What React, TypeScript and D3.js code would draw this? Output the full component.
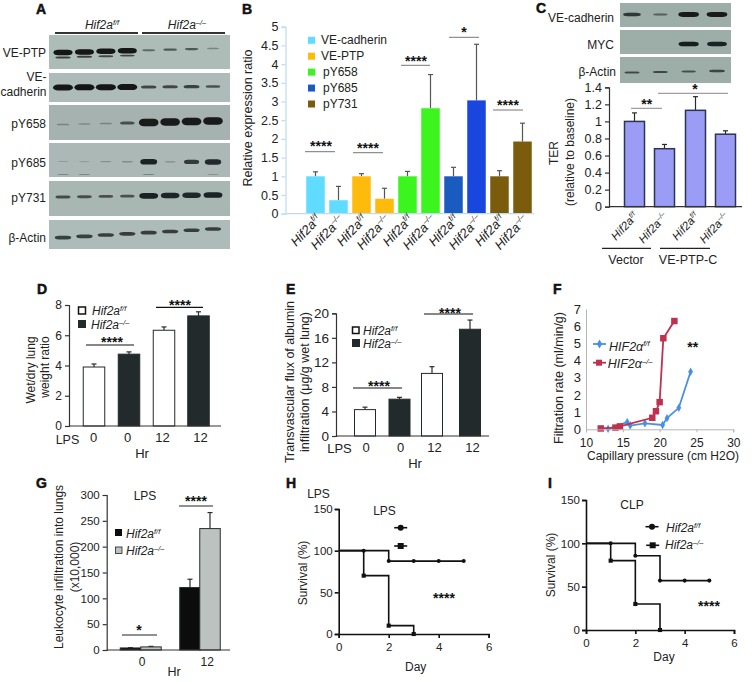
import React, {useEffect, useRef} from "react";
import * as d3 from "d3";

// panel A blots, band strength per lane (0-1)
const blotALabels = ["VE-PTP", "pY658", "pY685", "pY731", "β-Actin"];
const vePtpUpper = [1, 1, 1, 1, 0.2, 0.26, 0.26, 0.12];
const vePtpLower = [0.5, 0.5, 0.42, 0.42, 0, 0, 0, 0];
const veCadherinBands = [1, 1, 1, 1, 0.42, 0.42, 0.48, 0.32];
const pY658Bands = [0.1, 0.07, 0.1, 0.3, 0.95, 0.95, 0.95, 0.95];
const pY685Bands = [0.03, 0.02, 0.06, 0.08, 0.85, 0.08, 0.6, 0.78];
const pY685Smear = [0.1, 0.1, 0, 0, 0.12, 0, 0, 0.06];
const pY731Bands = [0.36, 0.34, 0.32, 0.3, 0.85, 0.82, 0.8, 0.85];
const actinABands = [0.55, 0.55, 0.52, 0.52, 0.52, 0.52, 0.52, 0.52];

// panel C blots
const blotCLabels = ["VE-cadherin", "MYC", "β-Actin"];
const veCadC = [0.6, 0.2, 0.95, 0.95];
const mycC = [0, 0, 0.9, 0.85];
const actinC = [0.36, 0.38, 0.28, 0.45];

// panel B
const bLegend = ["VE-cadherin", "VE-PTP", "pY658", "pY685", "pY731"];
const bColors = ["#5fdcff", "#ffbb0c", "#3cf51e", "#1a5bbf", "#7a5c0c"];
const bValues = [1, 0.36, 1, 0.4, 1, 2.82, 1, 3.03, 1, 1.93];
const bErrTops = [1.12, 0.73, 1.07, 0.68, 1.13, 3.72, 1.24, 4.53, 1.15, 2.42];
const bTicks = [0, 0.5, 1, 1.5, 2, 2.5, 3, 3.5, 4, 4.5, 5];
const bGenotype = ["f/f", "-/-", "f/f", "-/-", "f/f", "-/-", "f/f", "-/-", "f/f", "-/-"];

// panel C
const cValues = [1, 0.68, 1.13, 0.85];
const cErrTops = [1.1, 0.73, 1.29, 0.89];
const cTicks = [0, 0.2, 0.4, 0.6, 0.8, 1, 1.2, 1.4];
const cGenotype = ["f/f", "-/-", "f/f", "-/-"];

// panel D
const dValues = [3.9, 4.75, 6.33, 7.28];
const dErrTops = [4.1, 4.9, 6.55, 7.55];
const dTicks = [0, 2, 4, 6, 8];
const lpsHours = ["0", "0", "12", "12"];

// panel E
const eValues = [4.3, 6, 10.2, 17.4];
const eErrTops = [4.7, 6.3, 11.3, 18.9];
const eTicks = [0, 4, 8, 12, 16, 20];

// panel F
const fFloxX = [13, 15.6, 16, 18, 20.4, 21, 22.6, 24.2];
const fFloxY = [0.03, 0.42, 0.22, 0.35, 0.25, 0.65, 1.25, 3.35];
const fKoX = [12, 14, 14.6, 19, 19.5, 20, 20.5, 22];
const fKoY = [0.05, 0.1, 0.17, 0.67, 1.05, 1.58, 5.3, 6.3];
const fTicksX = [10, 15, 20, 25, 30];
const fTicksY = [0, 1, 2, 3, 4, 5, 6, 7];

// panel G
const gValues = [4, 6, 121, 235];
const gErrTops = [4.5, 7, 137, 266];
const gTicks = [0, 50, 100, 150, 200, 250, 300];
const gHours = ["0", "12"];

// survival
const survTicksX = [0, 2, 4, 6];
const survTicksY = [0, 50, 100, 150];
const hFloxDays = [0, 1, 2, 3, 4, 5];
const hFlox = [100, 100, 87.5, 87.5, 87.5, 87.5];
const hKoDays = [0, 1, 2, 3];
const hKo = [100, 70, 10, 0];
const iFloxDays = [0, 1, 2, 3, 4, 5];
const iFlox = [100, 100, 85.7, 57, 57, 57];
const iKoDays = [0, 1, 2, 3];
const iKo = [100, 80, 30, 0];

const FONT = "'Liberation Sans', Arial, sans-serif";
const INK = "#222";

type Sel = d3.Selection<any, any, any, any>;

const txt = (g: Sel, x: number, y: number, s: string, size = 12, anchor = "start") =>
    g.append("text").attr("x", x).attr("y", y).attr("font-size", size)
        .attr("text-anchor", anchor).attr("fill", INK).text(s);

// rotated y label, centred on (x, cy)
const yLabel = (g: Sel, x: number, cy: number, s: string, size = 12) =>
    g.append("text").attr("transform", `translate(${x},${cy}) rotate(-90)`)
        .attr("font-size", size).attr("text-anchor", "middle").attr("dy", "0.35em")
        .attr("fill", INK).text(s);

const stars = (g: Sel, cx: number, cy: number, s = "****") =>
    g.append("text").attr("x", cx).attr("y", cy + 7).attr("font-size", 14).attr("font-weight", "bold")
        .attr("text-anchor", "middle").attr("fill", "#111").text(s);

const rule = (g: Sel, x1: number, x2: number, y: number, color = "#222", w = 1) =>
    g.append("line").attr("x1", x1).attr("x2", x2).attr("y1", y).attr("y2", y)
        .attr("stroke", color).attr("stroke-width", w);

// "Hif2a" with a raised genotype tag
const geno = (g: Sel, x: number, y: number, tag: string, size = 12, anchor = "start", base = "Hif2a", transform?: string) => {
    const t = g.append("text").attr("font-size", size).attr("font-style", "italic")
        .attr("text-anchor", anchor).attr("fill", INK);
    if (transform) t.attr("transform", transform); else t.attr("x", x).attr("y", y);
    t.append("tspan").text(base);
    t.append("tspan").attr("font-size", size * 0.62).attr("dy", -size * 0.35).text(tag.replace(/-/g, "–"));
    return t;
};

const letter = (g: Sel, x: number, y: number, s: string) =>
    g.append("text").attr("x", x).attr("y", y).attr("font-size", 14).attr("font-weight", "bold")
        .attr("fill", "#111").attr("stroke", "#111").attr("stroke-width", 0.5).text(s);

// one blot strip. bands = list of {vals, y0, y1 (drift over the lanes), thick}
const blot = (g: Sel, x: number, y: number, w: number, h: number, fill: string,
              lanes: d3.ScalePoint<string>, bandW: number,
              bands: {vals: number[], y0: number, y1: number, thick: number}[]) => {
    g.append("rect").attr("x", x).attr("y", y).attr("width", w).attr("height", h).attr("fill", fill);
    const soft = g.append("g").attr("filter", "url(#soft)");
    bands.forEach(b => {
        const thick = d3.scaleLinear().domain([0, 1]).range([1, b.thick]);
        const widen = d3.scaleLinear().domain([0, 1]).range([bandW * 0.6, bandW]);
        const dark = d3.scaleLinear().domain([0, 0.25, 1]).range([0.1, 0.6, 1]);
        const drift = d3.scaleLinear().domain([0, b.vals.length - 1]).range([b.y0, b.y1]);
        soft.selectAll(null).data(b.vals).enter().append("rect")
            .attr("x", (v, i) => (lanes(String(i)) as number) - widen(v as number) / 2)
            .attr("y", (v, i) => drift(i) - thick(v as number) / 2)
            .attr("width", v => widen(v as number))
            .attr("height", v => thick(v as number))
            .attr("rx", v => widen(v as number) * 0.25)
            .attr("ry", v => thick(v as number) / 2)
            .attr("fill", "#121616")
            .attr("opacity", v => (v as number) > 0 ? dark(v as number) : 0);
    });
};

type BarCfg = {
    x0: number, xEnd: number, y0: number, yTop: number, max: number, ticks: number[],
    values: number[], errTops: number[], centers: number[], barW: number,
    fill: (i: number) => string, stroke?: string, strokeW?: number,
    axisColor?: string, errColor?: string, tickFont?: number,
};

const bars = (g: Sel, c: BarCfg) => {
    const y = d3.scaleLinear().domain([0, c.max]).range([c.y0, c.yTop]);
    const slots = c.values.map((_, i) => String(i));
    const x = d3.scaleOrdinal<string, number>().domain(slots).range(c.centers);
    const errColor = c.errColor ?? "#2a2a2a";

    // errors go under the bars
    c.values.forEach((v, i) => {
        const cx = x(String(i));
        g.append("line").attr("x1", cx).attr("x2", cx).attr("y1", y(v)).attr("y2", y(c.errTops[i]))
            .attr("stroke", errColor).attr("stroke-width", 1.2);
        g.append("line").attr("x1", cx - 2.5).attr("x2", cx + 2.5).attr("y1", y(c.errTops[i])).attr("y2", y(c.errTops[i]))
            .attr("stroke", errColor).attr("stroke-width", 1.2);
    });
    g.selectAll(null).data(c.values).enter().append("rect")
        .attr("x", (_, i) => x(String(i)) - c.barW / 2)
        .attr("y", d => y(d as number))
        .attr("width", c.barW)
        .attr("height", d => c.y0 - y(d as number))
        .attr("fill", (_, i) => c.fill(i))
        .attr("stroke", c.stroke ?? "none")
        .attr("stroke-width", c.strokeW ?? 0);

    const ax = g.append("g").attr("transform", `translate(${c.x0},0)`)
        .call(d3.axisLeft(y).tickValues(c.ticks).tickSize(4).tickPadding(3).tickFormat(d => String(d)) as any);
    ax.selectAll("text").attr("font-size", c.tickFont ?? 12.5).attr("font-family", FONT).attr("fill", INK);
    ax.selectAll("path,line").attr("stroke", c.axisColor ?? "#333").attr("stroke-width", 1.2);
    rule(g, c.x0, c.xEnd, c.y0, c.axisColor ?? "#333", 1.2);
    return y;
};

// category labels under a baseline
const catAxis = (g: Sel, y0: number, labels: string[], centers: number[], pad: number, size = 13) => {
    const slots = labels.map((_, i) => String(i));
    const x = d3.scaleOrdinal<string, number>().domain(slots).range(centers);
    const ax = g.append("g").attr("transform", `translate(0,${y0})`)
        .call(d3.axisBottom(x as any).tickSize(0).tickPadding(pad).tickFormat((_, i) => labels[i]) as any);
    ax.select(".domain").remove();
    ax.selectAll("text").attr("font-size", size).attr("font-family", FONT).attr("fill", INK);
};

const survival = (g: Sel, box: {x0: number, x6: number, y0: number, y150: number}, flox: [number[], number[]], ko: [number[], number[]]) => {
    const x = d3.scaleLinear().domain([0, 6]).range([box.x0, box.x6]);
    const y = d3.scaleLinear().domain([0, 150]).range([box.y0, box.y150]);
    const line = d3.line<number>().x((d) => x(d)).curve(d3.curveStepAfter);
    [flox, ko].forEach(([days, vals], k) => {
        g.append("path")
            .attr("d", line.y((_, i) => y(vals[i]))(days))
            .attr("fill", "none").attr("stroke", "#111").attr("stroke-width", 1.6);
        days.forEach((d, i) => {
            if (d === 0) return;
            g.append("path")
                .attr("transform", `translate(${x(d)},${y(vals[i])})`)
                .attr("d", d3.symbol().type(k === 0 ? d3.symbolCircle : d3.symbolSquare).size(k === 0 ? 13 : 17)())
                .attr("fill", "#111");
        });
    });
    const ay = g.append("g").attr("transform", `translate(${box.x0},0)`)
        .call(d3.axisLeft(y).tickValues(survTicksY).tickSize(4).tickPadding(2) as any);
    const ax = g.append("g").attr("transform", `translate(0,${box.y0})`)
        .call(d3.axisBottom(x).tickValues(survTicksX).tickSize(4).tickPadding(5).tickFormat(d => String(d)) as any);
    [ay, ax].forEach(a => {
        a.selectAll("text").attr("font-size", 11.5).attr("font-family", FONT).attr("fill", INK);
        a.selectAll("path,line").attr("stroke", "#111").attr("stroke-width", 1.6);
    });
};

const legendMark = (g: Sel, cx: number, cy: number, kind: "circle" | "square") => {
    rule(g, cx - 6.5, cx + 6.5, cy, "#111", 1.6);
    g.append("path").attr("transform", `translate(${cx},${cy})`)
        .attr("d", d3.symbol().type(kind === "circle" ? d3.symbolCircle : d3.symbolSquare).size(kind === "circle" ? 28 : 36)())
        .attr("fill", "#111");
};

const App = () => {
    const svgRef = useRef<SVGSVGElement>(null);

    useEffect(() => {
        const svg = d3.select(svgRef.current);
        svg.selectAll("*").remove();
        svg.attr("font-family", FONT);

        const defs = svg.append("defs");
        defs.append("filter").attr("id", "soft").attr("x", "-5%").attr("y", "-20%").attr("width", "110%").attr("height", "140%")
            .append("feGaussianBlur").attr("stdDeviation", 0.7);

        svg.append("rect").attr("width", 753).attr("height", 682).attr("fill", "#fff");

        // ---------- A
        const a = svg.append("g");
        letter(a, 36, 14, "A");
        geno(a, 102, 29, "f/f", 12, "middle");
        geno(a, 187, 29, "-/-", 12, "middle");
        rule(a, 55, 138, 33, "#333", 1.8);
        rule(a, 142, 225, 33, "#333", 1.8);
        const lanesA = d3.scalePoint<string>().domain(d3.range(8).map(String)).range([63, 213]);
        blot(a, 49, 35, 181, 34, "#aebcb8", lanesA, 19, [
            {vals: vePtpUpper, y0: 52.5, y1: 48.5, thick: 5.5},
            {vals: vePtpLower, y0: 57.5, y1: 53, thick: 3},
        ]);
        blot(a, 49, 73, 181, 29, "#adbcb8", lanesA, 20, [{vals: veCadherinBands, y0: 87.5, y1: 86.5, thick: 6}]);
        blot(a, 49, 105, 181, 35, "#a6b2b0", lanesA, 20, [{vals: pY658Bands, y0: 124.5, y1: 121, thick: 8}]);
        blot(a, 49, 143, 181, 34, "#acb8b5", lanesA, 18, [
            {vals: pY685Bands, y0: 161.5, y1: 162, thick: 6.5},
            {vals: pY685Smear, y0: 174.5, y1: 174.5, thick: 2},
        ]);
        blot(a, 49, 181, 181, 35, "#a9b7b3", lanesA, 20, [{vals: pY731Bands, y0: 197, y1: 195, thick: 6.5}]);
        blot(a, 49, 220, 181, 29, "#adbcb8", lanesA, 20, [{vals: actinABands, y0: 237.5, y1: 229, thick: 6}]);
        const rowsA = [52, 123, 162, 197, 237];
        blotALabels.forEach((s, i) => txt(a, 46, rowsA[i] + 4.5, s, 12, "end"));
        txt(a, 46.5, 81, "VE-", 12, "end");
        txt(a, 46.5, 96, "cadherin", 12, "end");

        // ---------- B
        const b = svg.append("g");
        letter(b, 242, 14, "B");
        const bx = d3.scaleBand<number>().domain(d3.range(10)).range([304, 534]).paddingInner(0.2).paddingOuter(0.1);
        const bCenters = d3.range(10).map(i => (bx(i) as number) + bx.bandwidth() / 2);
        bars(b, {
            x0: 285.5, xEnd: 534, y0: 213.7, yTop: 26.7, max: 5, ticks: bTicks, values: bValues, errTops: bErrTops,
            centers: bCenters, barW: 18.5,
            fill: i => i === 7 ? "#1a46e0" : bColors[Math.floor(i / 2)],
            axisColor: "#bcdcee", errColor: "#555", tickFont: 12.5,
        });
        bGenotype.forEach((tag, i) => {
            geno(b, 0, 0, tag, 13, "end", "Hif2a", `translate(${bCenters[i] + 6},220) rotate(-47)`);
        });
        yLabel(b, 248, 118, "Relative expression ratio", 12.5);
        const bLegendY = d3.scalePoint<string>().domain(bLegend).range([40.3, 104]);
        bLegend.forEach((s, i) => {
            const ly = bLegendY(s) as number;
            b.append("rect").attr("x", 308).attr("y", ly - 3.5).attr("width", 7).attr("height", 7).attr("fill", bColors[i]);
            txt(b, i < 2 ? 321 : 323, ly + 4, s, 12);
        });
        rule(b, 305, 335, 151.7, "#777");
        stars(b, 321, 144);
        rule(b, 353, 383, 152.7, "#777");
        stars(b, 368, 145.7);
        rule(b, 401, 430, 65.3, "#777");
        stars(b, 416, 58.7);
        rule(b, 449, 479, 37.3, "#777");
        stars(b, 464, 30, "*");
        rule(b, 493, 523, 110, "#777");
        stars(b, 508, 102.7);

        // ---------- C
        const c = svg.append("g");
        letter(c, 536, 13, "C");
        const lanesC = d3.scalePoint<string>().domain(d3.range(4).map(String)).range([632, 717]);
        blot(c, 620, 3, 111, 24, "#9dada8", lanesC, 21, [{vals: veCadC, y0: 14.5, y1: 14.5, thick: 5}]);
        blot(c, 620, 30, 111, 24, "#9dada8", lanesC, 21, [{vals: mycC, y0: 44, y1: 44, thick: 5}]);
        blot(c, 620, 57, 111, 26, "#9dada8", lanesC, 20, [{vals: actinC, y0: 72.5, y1: 71, thick: 4}]);
        const rowsC = [22, 49, 76];
        blotCLabels.forEach((s, i) => txt(c, i === 2 ? 616 : 614, rowsC[i], s, 12, "end"));
        const cCenters = [634.5, 664.5, 695.5, 725.5];
        bars(c, {
            x0: 609, xEnd: 742, y0: 206.7, yTop: 87.3, max: 1.4, ticks: cTicks, values: cValues, errTops: cErrTops,
            centers: cCenters, barW: 20,
            fill: () => "#9a9cf5", stroke: "#2c3550", strokeW: 1.5, axisColor: "#333", tickFont: 12.5,
        });
        cGenotype.forEach((tag, i) => {
            geno(c, 0, 0, tag, 11.5, "end", "Hif2a", `translate(${cCenters[i] + 4},217) rotate(-47)`);
        });
        yLabel(c, 554, 153, "TER", 12);
        yLabel(c, 570, 152, "(relative to baseline)", 12);
        rule(c, 631, 662, 108.3, "#888");
        stars(c, 646.7, 102.3, "**");
        rule(c, 658, 728, 93.3, "#888");
        stars(c, 695, 87.3, "*");
        rule(c, 602, 651, 248.3, "#222", 1.2);
        rule(c, 660, 710, 248.3, "#222", 1.2);
        txt(c, 626, 263.5, "Vector", 12.5, "middle");
        txt(c, 688, 263.5, "VE-PTP-C", 12.5, "middle");

        // ---------- D
        const dark = "#232a2c";
        const d = svg.append("g");
        letter(d, 37, 294, "D");
        bars(d, {
            x0: 69, xEnd: 221, y0: 426, yTop: 305, max: 8, ticks: dTicks, values: dValues, errTops: dErrTops,
            centers: [94, 129, 164, 198.5], barW: 21.5,
            fill: i => i % 2 ? dark : "#fff", stroke: dark, strokeW: 1, tickFont: 12,
        });
        catAxis(d, 426, lpsHours, [93, 127, 162, 200], 7);
        txt(d, 67.5, 443.5, "LPS", 12.5, "middle");
        txt(d, 142, 458, "Hr", 13, "middle");
        yLabel(d, 30.7, 370, "Wet/dry lung", 12);
        yLabel(d, 45, 367, "weight ratio", 12);
        rule(d, 86, 134, 345, "#111", 1.2);
        stars(d, 112, 340);
        rule(d, 156, 203, 307.3, "#111", 1.2);
        stars(d, 180, 302.7);
        d.append("rect").attr("x", 78.5).attr("y", 307).attr("width", 7).attr("height", 7).attr("fill", "#fff").attr("stroke", "#111").attr("stroke-width", 1.5);
        d.append("rect").attr("x", 78).attr("y", 320).attr("width", 8).attr("height", 8).attr("fill", dark);
        geno(d, 92, 314.7, "f/f", 12);
        geno(d, 91, 328.7, "-/-", 12);

        // ---------- E
        const e = svg.append("g");
        letter(e, 286, 294, "E");
        bars(e, {
            x0: 336, xEnd: 489, y0: 436, yTop: 313.3, max: 20, ticks: eTicks, values: eValues, errTops: eErrTops,
            centers: [365, 399.5, 432, 470], barW: 21,
            fill: i => i % 2 ? dark : "#fff", stroke: dark, strokeW: 1, tickFont: 13.5,
        });
        catAxis(e, 436, lpsHours, [365.7, 400, 434, 472], 7);
        txt(e, 339.5, 452.5, "LPS", 13, "middle");
        txt(e, 415, 468, "Hr", 13, "middle");
        yLabel(e, 290, 382, "Transvascular flux of albumin", 12.5);
        yLabel(e, 305, 382, "infiltration (μg/g wet lung)", 12.5);
        rule(e, 353, 402, 388, "#111", 1.2);
        stars(e, 379, 384);
        rule(e, 424, 473, 314, "#111", 1.2);
        stars(e, 450, 310.7);
        e.append("rect").attr("x", 352.5).attr("y", 327).attr("width", 6.5).attr("height", 6.5).attr("fill", "#fff").attr("stroke", "#111").attr("stroke-width", 1.5);
        e.append("rect").attr("x", 352).attr("y", 339).attr("width", 8).attr("height", 8).attr("fill", dark);
        geno(e, 363, 334.7, "f/f", 12);
        geno(e, 363, 347.7, "-/-", 12);

        // ---------- F
        const f = svg.append("g");
        letter(f, 553, 294, "F");
        const fx = d3.scaleLinear().domain([10, 30]).range([586, 733.3]);
        const fy = d3.scaleLinear().domain([0, 7]).range([429.3, 309]);
        const fLine = d3.line<number>().x(v => fx(v));
        const blue = "#4a90e2", red = "#c0304f";
        [[fFloxX, fFloxY, blue, d3.symbolDiamond, 20], [fKoX, fKoY, red, d3.symbolSquare, 42]].forEach((s: any) => {
            f.append("path").attr("d", fLine.y((_, i) => fy(s[1][i]))(s[0]))
                .attr("fill", "none").attr("stroke", s[2]).attr("stroke-width", 1.8);
            s[0].forEach((v: number, i: number) => {
                f.append("path").attr("transform", `translate(${fx(v)},${fy(s[1][i])})`)
                    .attr("d", d3.symbol().type(s[3]).size(s[4])()).attr("fill", s[2]);
            });
        });
        const fAxY = f.append("g").attr("transform", "translate(586,0)").call(d3.axisLeft(fy).tickValues(fTicksY).tickSize(0).tickPadding(5).tickFormat(v => String(v)) as any);
        const fAxX = f.append("g").attr("transform", "translate(0,429.3)").call(d3.axisBottom(fx).tickValues(fTicksX).tickSize(3).tickPadding(6).tickFormat(v => String(v)) as any);
        [fAxY, fAxX].forEach((ax, k) => {
            ax.selectAll("text").attr("font-size", k === 0 ? 13 : 12).attr("font-family", FONT).attr("fill", INK);
            ax.selectAll("path,line").attr("stroke", "#b5b5b5").attr("stroke-width", 1);
        });
        yLabel(f, 559, 378, "Filtration rate (ml/min/g)", 12.5);
        txt(f, 663, 460, "Capillary pressure (cm H2O)", 12, "middle");
        stars(f, 692.7, 345, "**");
        rule(f, 593, 606, 344, blue, 1.8);
        f.append("path").attr("transform", "translate(599.5,344)").attr("d", d3.symbol().type(d3.symbolDiamond).size(24)()).attr("fill", blue);
        rule(f, 593, 606, 362.7, red, 1.8);
        f.append("path").attr("transform", "translate(599,362.7)").attr("d", d3.symbol().type(d3.symbolSquare).size(36)()).attr("fill", red);
        geno(f, 609, 350.7, "f/f", 12.5, "start", "HIF2α");
        geno(f, 607.7, 368.3, "-/-", 12.5, "start", "HIF2α");

        // ---------- G
        const gp = svg.append("g");
        letter(gp, 36, 488, "G");
        bars(gp, {
            x0: 106.7, xEnd: 230, y0: 650, yTop: 495, max: 300, ticks: gTicks, values: gValues, errTops: gErrTops,
            centers: [130.5, 151, 190, 210], barW: 20.5,
            fill: i => i % 2 ? "#bcc2c0" : "#0c0c0c", stroke: "#2a2e2e", strokeW: 1, tickFont: 11.5,
        });
        catAxis(gp, 650, gHours, [141.7, 206.7], 7.5, 12);
        txt(gp, 174, 676, "Hr", 12.5, "middle");
        yLabel(gp, 59, 567, "Leukocyte infiltration into lungs", 12);
        yLabel(gp, 75, 567, "(x10,000)", 12);
        txt(gp, 145, 500, "LPS", 12, "middle");
        rule(gp, 122, 157, 635, "#222");
        stars(gp, 139, 627.7, "*");
        rule(gp, 179, 213, 506, "#222");
        stars(gp, 196, 499);
        gp.append("rect").attr("x", 115).attr("y", 529).attr("width", 7).attr("height", 7).attr("fill", "#0c0c0c");
        gp.append("rect").attr("x", 115.5).attr("y", 547).attr("width", 6.5).attr("height", 6.5).attr("fill", "#bcc2c0").attr("stroke", "#222").attr("stroke-width", 0.8);
        geno(gp, 126, 538, "f/f", 12);
        geno(gp, 126, 555, "-/-", 12);

        // ---------- H
        const h = svg.append("g");
        letter(h, 286, 488, "H");
        survival(h, {x0: 338.7, x6: 488.7, y0: 634, y150: 509}, [hFloxDays, hFlox], [hKoDays, hKo]);
        txt(h, 318.5, 497.5, "LPS", 12, "middle");
        txt(h, 384.5, 514.5, "LPS", 12, "middle");
        legendMark(h, 400.7, 527.7, "circle");
        legendMark(h, 400.7, 546, "square");
        yLabel(h, 302.7, 573, "Survival (%)", 12);
        txt(h, 415.7, 671, "Day", 12, "middle");
        stars(h, 444, 595.7);

        // ---------- I
        const i9 = svg.append("g");
        letter(i9, 548, 488, "I");
        survival(i9, {x0: 586, x6: 734, y0: 630, y150: 500}, [iFloxDays, iFlox], [iKoDays, iKo]);
        txt(i9, 632, 509, "CLP", 12, "middle");
        legendMark(i9, 652, 526.7, "circle");
        legendMark(i9, 652.7, 545.3, "square");
        geno(i9, 666, 531.7, "f/f", 12);
        geno(i9, 665, 549, "-/-", 12);
        yLabel(i9, 550.7, 565, "Survival (%)", 12);
        txt(i9, 664, 661, "Day", 12, "middle");
        stars(i9, 709, 604.3);
    }, []);

    return (
        <svg ref={svgRef} width={753} height={682} style={{position: "absolute", left: 0, top: 0, display: "block"}}/>
    );
};

export default App;
